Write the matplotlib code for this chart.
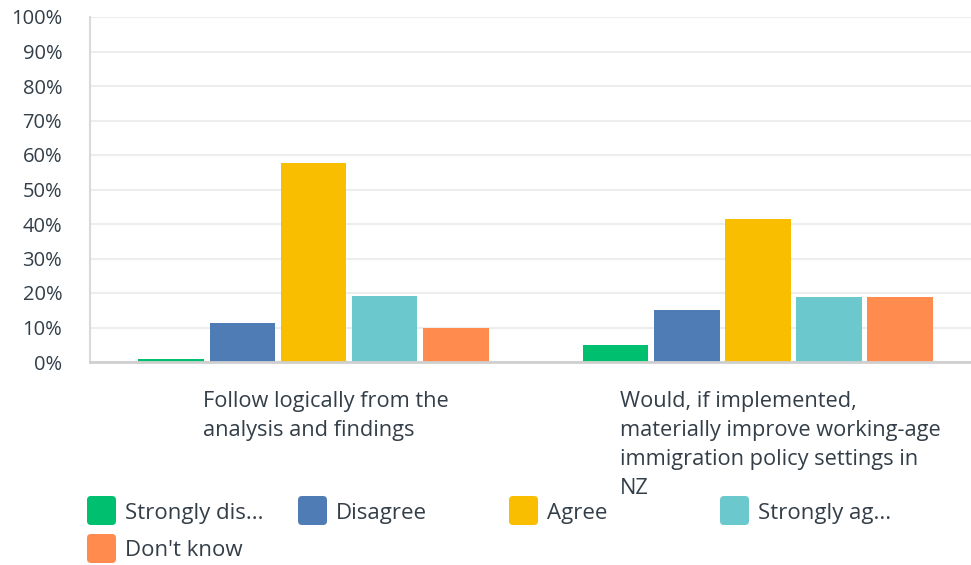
import matplotlib
matplotlib.use("Agg")
import numpy as np
import matplotlib.pyplot as plt
from matplotlib.patches import FancyBboxPatch

plt.rcParams['font.family'] = ['Open Sans', 'DejaVu Sans']

categories = ["Follow logically from the\nanalysis and findings",
              "Would, if implemented,\nmaterially improve working-age\nimmigration policy settings in\nNZ"]
series = ["Strongly dis...", "Disagree", "Agree", "Strongly ag...", "Don't know"]
strongly_disagree = [1.0, 5.0]
disagree = [11.4, 15.1]
agree = [57.6, 41.4]
strongly_agree = [19.2, 18.9]
dont_know = [9.9, 18.9]
yticks = [0, 10, 20, 30, 40, 50, 60, 70, 80, 90, 100]

colors = ['#00bf6f', '#507cb6', '#f9be00', '#6bc8cd', '#ff8b4f']
text_col = '#333e48'

W, H = 971, 565
fig = plt.figure(figsize=(W / 100, H / 100), dpi=100)
ax = fig.add_axes([90 / W, (H - 362) / H, (W - 90) / W, (362 - 17) / H])

values = [strongly_disagree, disagree, agree, strongly_agree, dont_know]
x = np.arange(len(categories))
pitch = 0.16
width = 0.148
for i, vals in enumerate(values):
    ax.bar(x + (i - 2) * pitch, vals, width, color=colors[i], zorder=3)

ax.set_xlim(-0.503, 1.48)
ax.set_ylim(0, 100)
ax.set_yticks(yticks)
ax.set_yticklabels([f"{v}%" for v in yticks], fontsize=14.5, color=text_col)
ax.tick_params(axis='y', length=0, pad=20)
ax.set_xticks([])
ax.grid(axis='y', color='#ededed', linewidth=1.5, zorder=0)
for s in ['top', 'right']:
    ax.spines[s].set_visible(False)
ax.spines['left'].set_color('#d9d9d9')
ax.spines['left'].set_linewidth(1.5)
ax.spines['bottom'].set_color('#cfcfcf')
ax.spines['bottom'].set_linewidth(2)
ax.spines['bottom'].set_zorder(4)

# category labels
label_x = [203, 620]
for lx, lab in zip(label_x, categories):
    fig.text(lx / W, (H - 391) / H, lab, ha='left', va='top', fontsize=15.7,
             color=text_col, linespacing=1.5)

# legend
for i, name in enumerate(series):
    row, col = divmod(i, 4)
    px = 87 + col * 211
    py = 496 + row * 38
    box = FancyBboxPatch((px / 100, (H - py - 29) / 100), 0.29, 0.29,
                         boxstyle="round,pad=0,rounding_size=0.04",
                         transform=fig.dpi_scale_trans, facecolor=colors[i],
                         edgecolor='none')
    fig.add_artist(box)
    fig.text((px + 38) / W, (H - py - 17) / H, name, ha='left', va='center',
             fontsize=16, color=text_col)

fig.savefig("out.png", dpi=100)
